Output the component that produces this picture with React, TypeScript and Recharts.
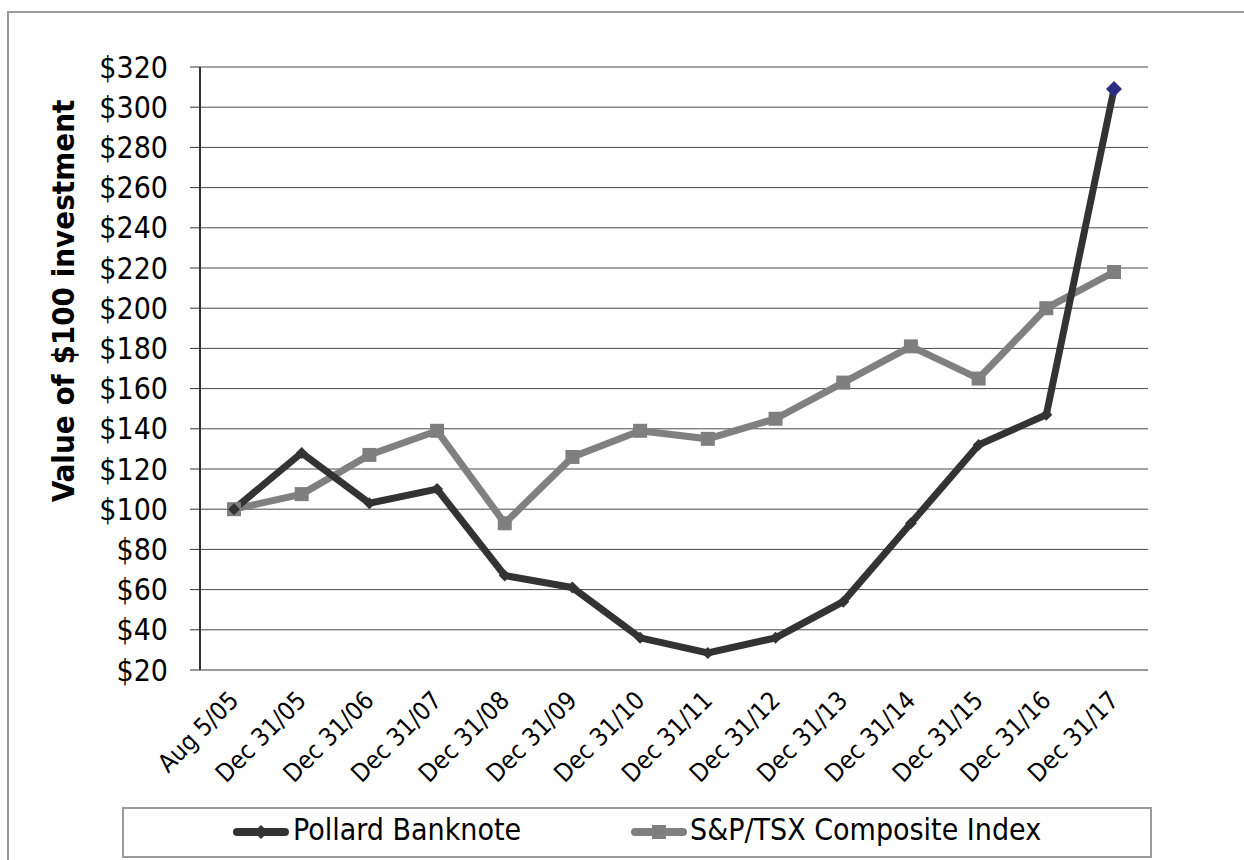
import { LineChart, Line, XAxis, YAxis, CartesianGrid } from "recharts";

const dates = [
  "Aug 5/05",
  "Dec 31/05",
  "Dec 31/06",
  "Dec 31/07",
  "Dec 31/08",
  "Dec 31/09",
  "Dec 31/10",
  "Dec 31/11",
  "Dec 31/12",
  "Dec 31/13",
  "Dec 31/14",
  "Dec 31/15",
  "Dec 31/16",
  "Dec 31/17",
];
const pollard = [100, 128, 103, 110, 67, 61, 36, 28.5, 36, 54, 93, 132, 147, 309];
const tsx = [100, 107.5, 127, 139, 93, 126, 139, 135, 145, 163, 181, 165, 200, 218];
const yTicks = [20, 40, 60, 80, 100, 120, 140, 160, 180, 200, 220, 240, 260, 280, 300, 320];

const FONT = "'DejaVu Sans Condensed', 'DejaVu Sans', sans-serif";

const data = dates.map((d, i) => ({ date: d, pollard: pollard[i], tsx: tsx[i] }));

function DiamondDot(props: any) {
  const { cx, cy, index } = props;
  const last = index === pollard.length - 1;
  const r = last ? 8 : 6;
  return (
    <polygon
      key={"pd" + index}
      points={`${cx},${cy - r} ${cx + r},${cy} ${cx},${cy + r} ${cx - r},${cy}`}
      fill={last ? "#2D2D82" : "#333333"}
    />
  );
}

function SquareDot(props: any) {
  const { cx, cy, index } = props;
  return <rect key={"sq" + index} x={cx - 7} y={cy - 7} width={14} height={14} fill="#7f7f7f" />;
}

function XTick(props: any) {
  const { x, y, payload } = props;
  return (
    <g transform={`translate(${x + 6},${y + 24})`}>
      <text textAnchor="end" transform="rotate(-45)" fontSize={25} fontFamily={FONT} fill="#000">
        {payload.value}
      </text>
    </g>
  );
}

function YLabel() {
  return (
    <text
      x={74}
      y={301}
      transform="rotate(-90 74 301)"
      textAnchor="middle"
      fontSize={31}
      fontWeight="bold"
      fontFamily={FONT}
      fill="#000"
    >
      Value of $100 investment
    </text>
  );
}

function LegendIcon({ color, square }: { color: string; square?: boolean }) {
  return (
    <svg width={58} height={20} style={{ display: "block" }}>
      <line x1={5} y1={10} x2={53} y2={10} stroke={color} strokeWidth={8} strokeLinecap="round" />
      {square ? (
        <rect x={22} y={3} width={14} height={14} fill={color} />
      ) : (
        <polygon points="29,3 36,10 29,17 22,10" fill={color} />
      )}
    </svg>
  );
}

export default function App() {
  return (
    <div
      style={{
        position: "absolute",
        left: 0,
        top: 0,
        width: 1244,
        height: 860,
        overflow: "hidden",
        background: "#fff",
        fontFamily: FONT,
      }}
    >
      <div
        style={{
          position: "absolute",
          left: 7,
          top: 11,
          width: 1300,
          height: 900,
          borderLeft: "2px solid #9a9a9a",
          borderTop: "2px solid #9a9a9a",
        }}
      />
      <div style={{ position: "absolute", left: 0, top: 0 }}>
        <LineChart
          width={1244}
          height={860}
          data={data}
          margin={{ top: 67, right: 96, left: 100, bottom: 90 }}
        >
          <CartesianGrid vertical={false} stroke="#4a4a4a" strokeWidth={1} />
          <XAxis
            dataKey="date"
            height={100}
            padding={{ left: 34, right: 34 }}
            tickLine={false}
            axisLine={{ stroke: "#9a9a9a", strokeWidth: 2 }}
            tick={<XTick />}
            interval={0}
          />
          <XAxis
            xAxisId="top"
            dataKey="date"
            orientation="top"
            height={0}
            tick={false}
            tickLine={false}
            axisLine={{ stroke: "#9a9a9a", strokeWidth: 2 }}
          />
          <YAxis
            width={100}
            domain={[20, 320]}
            ticks={yTicks}
            interval={0}
            tickSize={10}
            tickMargin={22}
            tickFormatter={(v: number) => `$${v}`}
            tick={{ fontSize: 30, fontFamily: FONT, fill: "#000" }}
            tickLine={{ stroke: "#333" }}
            axisLine={{ stroke: "#333", strokeWidth: 2 }}
          />
          <YAxis
            yAxisId="right"
            orientation="right"
            width={0}
            domain={[20, 320]}
            tick={false}
            tickLine={false}
            axisLine={{ stroke: "#9a9a9a", strokeWidth: 3 }}
          />
          <Line
            dataKey="tsx"
            stroke="#808080"
            strokeWidth={7}
            dot={<SquareDot />}
            activeDot={false}
            isAnimationActive={false}
          />
          <Line
            dataKey="pollard"
            stroke="#333333"
            strokeWidth={7}
            dot={<DiamondDot />}
            activeDot={false}
            isAnimationActive={false}
          />
          <YLabel />
        </LineChart>
      </div>
      <div
        style={{
          position: "absolute",
          left: 122,
          top: 807,
          width: 1026,
          height: 47,
          border: "2px solid #9a9a9a",
          fontSize: 30,
          color: "#000",
        }}
      >
        <div style={{ position: "absolute", left: 108, top: 13 }}>
          <LegendIcon color="#333333" />
        </div>
        <div style={{ position: "absolute", left: 169, top: 3 }}>Pollard Banknote</div>
        <div style={{ position: "absolute", left: 506, top: 13 }}>
          <LegendIcon color="#808080" square />
        </div>
        <div style={{ position: "absolute", left: 566, top: 3 }}>S&amp;P/TSX Composite Index</div>
      </div>
    </div>
  );
}
